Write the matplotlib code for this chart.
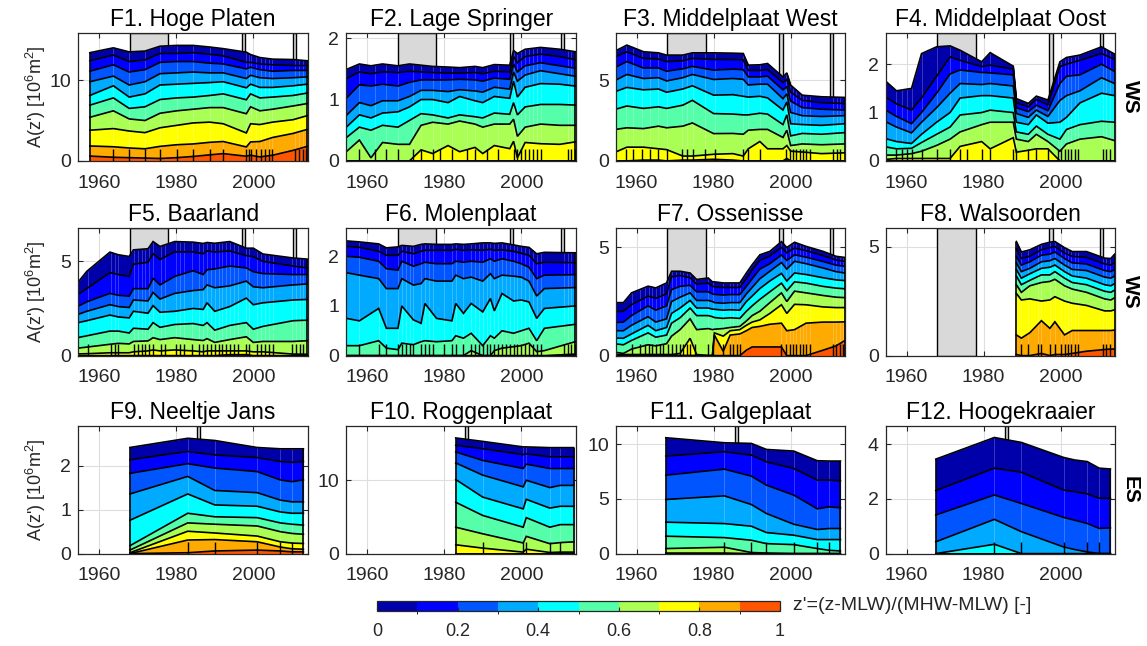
import numpy as np
import matplotlib
matplotlib.use('Agg')
import matplotlib as mpl
import matplotlib.pyplot as plt
from matplotlib.colors import ListedColormap, BoundaryNorm

plt.rcParams['font.family'] = ['Liberation Sans', 'DejaVu Sans']
plt.rcParams['mathtext.fontset'] = 'custom'
plt.rcParams['mathtext.rm'] = 'Liberation Sans'
plt.rcParams['mathtext.it'] = 'Liberation Sans:italic'
plt.rcParams['mathtext.bf'] = 'Liberation Sans:bold'

# ---------------- data ----------------
titles = ['F1. Hoge Platen', 'F2. Lage Springer', 'F3. Middelplaat West', 'F4. Middelplaat Oost',
          'F5. Baarland', 'F6. Molenplaat', 'F7. Ossenisse', 'F8. Walsoorden',
          'F9. Neeltje Jans', 'F10. Roggenplaat', 'F11. Galgeplaat', 'F12. Hoogekraaier']
row_labels = ['WS', 'WS', 'ES']
cbar_ticks = [0, 0.2, 0.4, 0.6, 0.8, 1]
cbar_ticklabels = ['0', '0.2', '0.4', '0.6', '0.8', '1']
x_ticks = [1960, 1980, 2000]

# columns: A(z') for z' = 0, 0.1, ..., 0.9  [10^6 m^2]
F1_years = [1957.6, 1963.7, 1967.8, 1971.9, 1975.8, 1980.1, 1984.4, 1988.7, 1992.2, 1998.2, 1999.3, 2001.7, 2005.0, 2010.3, 2014.0]
F1_A = [
    [13.4, 12.4, 11.1, 9.8, 8.1, 6.9, 5.4, 3.8, 1.85, 0.6],
    [14.0, 13.1, 11.9, 10.5, 9.3, 7.8, 6.2, 4.0, 1.75, 0.45],
    [13.5, 12.3, 11.0, 9.4, 7.9, 6.5, 5.2, 3.7, 1.6, 0.4],
    [13.6, 12.5, 11.3, 9.8, 8.3, 6.7, 5.0, 3.5, 1.5, 0.35],
    [14.2, 13.3, 12.2, 10.8, 9.4, 7.6, 5.9, 4.1, 1.8, 0.3],
    [14.3, 13.3, 12.3, 10.9, 9.5, 7.8, 6.2, 4.4, 2.0, 0.4],
    [14.3, 13.4, 12.3, 11.0, 9.6, 7.9, 6.4, 4.7, 2.1, 0.55],
    [14.1, 13.2, 12.1, 10.9, 9.7, 8.1, 6.6, 4.8, 2.3, 0.75],
    [13.9, 13.0, 12.0, 10.9, 9.8, 8.3, 6.6, 4.6, 2.4, 0.9],
    [13.46, 12.2, 11.4, 10.2, 9.05, 7.57, 5.84, 3.46, 1.73, 0.58],
    [13.17, 12.2, 11.6, 10.6, 9.5, 8.3, 6.7, 4.6, 2.35, 0.7],
    [12.8, 12.0, 11.3, 10.3, 9.1, 7.8, 6.2, 4.5, 2.4, 0.5],
    [12.6, 11.9, 11.1, 10.2, 9.1, 7.9, 6.4, 4.8, 2.9, 0.7],
    [12.55, 11.8, 11.2, 10.3, 9.3, 8.1, 6.8, 5.1, 3.4, 1.3],
    [12.4, 11.8, 11.2, 10.4, 9.5, 8.4, 7.1, 5.6, 3.9, 1.8],
]
F1_survey = [1963.7, 1967.8, 1971.9, 1975.8, 1980.1, 1984.4, 1988.7, 1992.2, 1998.2, 1998.8, 1999.5,
             2000.8, 2002.1, 2003.1, 2004.0, 2004.9, 2010.7, 2011.9, 2012.9, 2013.8]

F2_years = [1954.6, 1958, 1961, 1964, 1968, 1971, 1974, 1977, 1981, 1984, 1988, 1990, 1993, 1997, 1998, 1999, 2001, 2005, 2010, 2014]
F2_A = [
    [1.49, 1.34, 1.02, 0.74, 0.55, 0.38, 0.15, 0, 0, 0],
    [1.58, 1.45, 1.24, 0.95, 0.75, 0.55, 0.34, 0, 0, 0],
    [1.55, 1.42, 1.22, 0.90, 0.70, 0.50, 0.05, 0, 0, 0],
    [1.58, 1.45, 1.25, 0.98, 0.78, 0.58, 0.30, 0, 0, 0],
    [1.55, 1.44, 1.22, 0.98, 0.80, 0.55, 0.27, 0, 0, 0],
    [1.58, 1.46, 1.28, 1.05, 0.88, 0.66, 0.27, 0, 0, 0],
    [1.56, 1.45, 1.32, 1.15, 1.00, 0.77, 0.58, 0.18, 0, 0],
    [1.54, 1.44, 1.32, 1.15, 1.00, 0.75, 0.63, 0.12, 0, 0],
    [1.53, 1.43, 1.32, 1.13, 0.95, 0.70, 0.60, 0.25, 0, 0],
    [1.52, 1.43, 1.33, 1.16, 1.05, 0.75, 0.65, 0.15, 0, 0],
    [1.54, 1.44, 1.32, 1.14, 0.98, 0.72, 0.60, 0.22, 0, 0],
    [1.52, 1.42, 1.30, 1.12, 0.95, 0.70, 0.55, 0.12, 0, 0],
    [1.57, 1.46, 1.35, 1.20, 1.05, 0.78, 0.60, 0.25, 0, 0],
    [1.56, 1.45, 1.33, 1.17, 1.02, 0.76, 0.60, 0.20, 0, 0],
    [1.80, 1.70, 1.58, 1.45, 1.30, 0.95, 0.68, 0.32, 0, 0],
    [1.75, 1.60, 1.45, 1.30, 1.04, 0.75, 0.40, 0.05, 0, 0],
    [1.82, 1.70, 1.55, 1.40, 1.20, 0.88, 0.55, 0.30, 0, 0],
    [1.85, 1.74, 1.60, 1.47, 1.26, 0.92, 0.60, 0.28, 0, 0],
    [1.82, 1.70, 1.55, 1.42, 1.25, 0.92, 0.58, 0.27, 0, 0],
    [1.78, 1.65, 1.51, 1.38, 1.22, 0.91, 0.58, 0.31, 0, 0],
]
F2_survey = [1958, 1962, 1965, 1968, 1972, 1974, 1977, 1979, 1982, 1986, 1988, 1991, 1994, 1998, 1999,
             2000, 2001, 2002, 2003, 2004, 2005, 2012, 2013, 2014]

F3_years = [1954.6, 1957.5, 1961.8, 1965.7, 1967.8, 1972, 1974.5, 1980, 1985, 1987.7, 1989, 1992, 1994, 1998, 1999, 2000, 2003, 2008, 2014]
F3_A = [
    [6.82, 6.45, 5.80, 5.00, 4.30, 3.20, 1.95, 0.55, 0, 0],
    [7.17, 6.75, 6.15, 5.35, 4.55, 3.40, 2.05, 0.85, 0, 0],
    [6.76, 6.35, 5.75, 5.10, 4.40, 3.25, 2.00, 0.85, 0.05, 0],
    [6.69, 6.30, 5.75, 5.15, 4.45, 3.35, 2.15, 0.75, 0.05, 0],
    [6.55, 6.15, 5.55, 4.95, 4.25, 3.25, 2.05, 0.70, 0, 0],
    [6.55, 6.20, 5.70, 5.15, 4.45, 3.45, 2.15, 0.30, 0.05, 0],
    [6.69, 6.35, 5.85, 5.35, 4.65, 3.75, 2.35, 0.30, 0.05, 0],
    [6.69, 6.28, 5.62, 5.04, 4.07, 2.93, 1.69, 0.41, 0.10, 0],
    [6.67, 6.28, 5.68, 5.10, 4.10, 2.90, 1.70, 0.45, 0.05, 0],
    [6.65, 6.25, 5.65, 5.05, 4.00, 2.85, 1.65, 0.30, 0, 0],
    [5.93, 5.60, 5.20, 4.70, 3.95, 2.85, 1.90, 0.75, 0, 0],
    [5.95, 5.60, 5.20, 4.75, 4.00, 2.95, 1.95, 1.20, 0, 0],
    [6.03, 5.65, 5.25, 4.75, 3.90, 2.90, 1.95, 0.75, 0, 0],
    [5.20, 4.85, 4.40, 3.85, 3.15, 2.25, 1.45, 0.75, 0, 0],
    [5.45, 5.05, 4.60, 4.15, 3.65, 2.85, 1.90, 0.95, 0.15, 0],
    [4.69, 4.25, 3.70, 3.00, 2.30, 1.55, 0.95, 0.60, 0, 0],
    [4.07, 3.75, 3.30, 2.80, 2.25, 1.70, 1.05, 0.55, 0, 0],
    [3.97, 3.60, 3.20, 2.75, 2.20, 1.65, 1.00, 0.45, 0, 0],
    [3.93, 3.55, 3.15, 2.80, 2.30, 1.75, 1.05, 0.50, 0, 0],
]
F3_survey = [1957.4, 1959.2, 1961.3, 1963.5, 1965.7, 1967.8, 1971.7, 1973.0, 1974.7, 1977.7, 1980.3,
             1987.7, 1989.0, 1992.0, 1998.9, 1999.8, 2000.6, 2001.5, 2002.4, 2003.2, 2004.1, 2005.0,
             2011.0, 2011.9, 2012.7]

F4_years = [1954.6, 1957.4, 1961.3, 1963.9, 1967.8, 1971.3, 1973.9, 1979.5, 1981.7, 1987.7, 1988.5, 1991.6, 1993.7, 1996.7, 1999.8, 2001.5, 2005.0, 2010.6, 2014.0]
F4_A = [
    [1.65, 1.32, 1.05, 0.81, 0.46, 0.29, 0.12, 0.03, 0, 0],
    [1.45, 1.18, 0.92, 0.70, 0.40, 0.25, 0.12, 0.05, 0, 0],
    [1.50, 1.05, 0.77, 0.58, 0.36, 0.26, 0.15, 0.05, 0, 0],
    [2.22, 1.30, 1.00, 0.80, 0.55, 0.38, 0.20, 0.05, 0, 0],
    [2.36, 1.75, 1.40, 1.10, 0.80, 0.55, 0.32, 0.05, 0, 0],
    [2.38, 2.15, 1.80, 1.40, 1.00, 0.70, 0.45, 0.05, 0, 0],
    [2.29, 2.08, 1.88, 1.60, 1.30, 0.95, 0.60, 0.30, 0, 0],
    [2.05, 1.95, 1.83, 1.58, 1.35, 1.00, 0.75, 0.40, 0, 0],
    [2.24, 1.98, 1.82, 1.60, 1.35, 1.05, 0.80, 0.25, 0, 0],
    [1.96, 1.90, 1.78, 1.55, 1.30, 1.00, 0.80, 0.48, 0, 0],
    [1.29, 1.20, 1.10, 0.98, 0.80, 0.60, 0.45, 0.18, 0, 0],
    [1.19, 1.12, 1.02, 0.90, 0.75, 0.55, 0.40, 0.22, 0, 0],
    [1.34, 1.27, 1.15, 1.05, 0.95, 0.72, 0.55, 0.25, 0, 0],
    [1.26, 1.16, 1.04, 0.92, 0.78, 0.55, 0.40, 0.25, 0, 0],
    [2.05, 1.95, 1.60, 1.25, 0.80, 0.45, 0.20, 0, 0, 0],
    [2.14, 2.00, 1.75, 1.35, 0.90, 0.65, 0.35, 0, 0, 0],
    [2.19, 2.08, 1.78, 1.45, 1.20, 0.75, 0.45, 0, 0, 0],
    [2.36, 2.22, 2.00, 1.72, 1.40, 0.82, 0.50, 0, 0, 0],
    [2.21, 2.10, 1.85, 1.60, 1.35, 0.80, 0.42, 0, 0, 0],
]
F4_survey = [1957.4, 1958.7, 1960.0, 1961.3, 1963.9, 1967.8, 1971.3, 1973.9, 1975.6, 1979.5, 1981.7,
             1987.7, 1988.5, 1991.6, 1993.7, 1996.7, 1999.3, 2000.2, 2001.0, 2001.9, 2002.8, 2003.6,
             2004.5, 2011.0, 2011.8, 2012.7]

F5_years = [1954.6, 1956.8, 1962.8, 1965.0, 1967.8, 1968.9, 1972.7, 1974.0, 1975.8, 1979.6, 1984.4, 1987.0, 1988.0, 1990.0, 1993.9, 1998.2, 2000.0, 2002.5, 2010.3, 2014.0]
F5_A = [
    [3.91, 3.25, 2.63, 2.19, 1.75, 0.96, 0.40, 0.09, 0, 0],
    [4.47, 3.55, 2.85, 2.35, 1.85, 1.05, 0.45, 0.10, 0, 0],
    [5.49, 4.40, 3.30, 2.70, 2.15, 1.30, 0.60, 0.15, 0, 0],
    [5.35, 4.30, 3.20, 2.60, 2.05, 1.30, 0.65, 0.15, 0, 0],
    [5.26, 4.20, 3.15, 2.55, 2.00, 1.20, 0.62, 0.15, 0, 0],
    [5.61, 4.85, 3.55, 2.95, 2.35, 1.45, 0.75, 0.20, 0, 0],
    [5.67, 4.95, 3.55, 2.90, 2.25, 1.40, 0.78, 0.25, 0, 0],
    [6.05, 5.40, 4.10, 3.35, 2.65, 1.75, 0.95, 0.30, 0, 0],
    [5.79, 5.10, 3.75, 3.00, 2.30, 1.50, 0.85, 0.25, 0, 0],
    [6.05, 5.50, 4.20, 3.30, 2.35, 1.65, 0.95, 0.30, 0, 0],
    [6.02, 5.50, 4.50, 3.45, 2.50, 1.70, 0.85, 0.25, 0, 0],
    [5.95, 5.40, 4.30, 3.50, 2.45, 1.60, 0.80, 0.20, 0, 0],
    [6.00, 5.55, 4.55, 3.75, 2.80, 1.75, 0.90, 0.25, 0, 0],
    [5.96, 5.50, 4.60, 3.60, 2.35, 1.35, 0.70, 0.25, 0, 0],
    [6.05, 5.55, 4.75, 3.70, 2.60, 1.60, 0.85, 0.25, 0.05, 0],
    [5.70, 5.30, 4.65, 3.95, 3.05, 1.75, 1.00, 0.25, 0.05, 0],
    [5.70, 5.25, 4.45, 3.65, 2.70, 1.40, 0.70, 0.20, 0, 0],
    [5.39, 5.00, 4.35, 3.60, 2.80, 1.55, 0.75, 0.20, 0, 0],
    [5.18, 4.75, 4.30, 3.75, 2.95, 1.85, 0.75, 0.08, 0, 0],
    [5.12, 4.65, 4.30, 3.80, 2.98, 1.88, 0.79, 0.07, 0, 0],
]
F5_survey = [1957, 1963, 1964, 1965, 1969, 1970, 1971, 1972, 1973, 1974, 1976, 1977, 1980, 1981, 1982,
             1984, 1986, 1987, 1988, 1989, 1990, 1991, 1992, 1993, 1994, 1995, 1996, 1998, 1999, 2001,
             2002, 2003, 2004, 2005, 2010, 2011, 2012, 2013]

F6_years = [1954.6, 1958, 1963, 1965, 1968, 1969, 1972, 1974, 1975, 1978, 1982, 1983, 1985, 1987, 1990, 1992, 1993, 1995, 1998, 2000, 2002, 2004, 2006, 2014]
F6_A = [
    [2.31, 2.20, 2.00, 1.67, 0.75, 0.20, 0, 0, 0, 0],
    [2.29, 2.18, 1.98, 1.62, 0.70, 0.20, 0, 0, 0, 0],
    [2.25, 2.10, 1.90, 1.55, 0.95, 0.30, 0, 0, 0, 0],
    [2.17, 2.02, 1.75, 1.35, 0.55, 0.15, 0, 0, 0, 0],
    [2.19, 2.02, 1.72, 1.35, 0.55, 0.12, 0, 0, 0, 0],
    [2.22, 2.10, 1.90, 1.55, 1.00, 0.25, 0, 0, 0, 0],
    [2.20, 2.05, 1.80, 1.42, 0.72, 0.22, 0, 0, 0, 0],
    [2.24, 2.10, 1.85, 1.45, 0.65, 0.28, 0, 0, 0, 0],
    [2.25, 2.12, 1.88, 1.55, 1.05, 0.30, 0, 0, 0, 0],
    [2.24, 2.12, 1.85, 1.50, 0.75, 0.28, 0, 0, 0, 0],
    [2.24, 2.12, 1.85, 1.50, 0.70, 0.30, 0, 0, 0, 0],
    [2.25, 2.14, 1.90, 1.62, 1.05, 0.40, 0, 0, 0, 0],
    [2.24, 2.12, 1.88, 1.55, 0.85, 0.35, 0, 0, 0, 0],
    [2.25, 2.13, 1.90, 1.58, 1.05, 0.45, 0.10, 0, 0, 0],
    [2.27, 2.12, 1.88, 1.50, 0.88, 0.20, 0, 0, 0, 0],
    [2.27, 2.14, 1.95, 1.65, 1.15, 0.40, 0, 0, 0, 0],
    [2.26, 2.12, 1.90, 1.55, 0.90, 0.35, 0.10, 0, 0, 0],
    [2.27, 2.13, 1.95, 1.62, 1.25, 0.50, 0.15, 0, 0, 0],
    [2.23, 2.10, 1.90, 1.60, 1.10, 0.45, 0.18, 0, 0, 0],
    [2.20, 2.06, 1.85, 1.58, 1.12, 0.50, 0.20, 0, 0, 0],
    [2.18, 2.02, 1.78, 1.50, 1.08, 0.55, 0.25, 0, 0, 0],
    [2.05, 1.85, 1.55, 1.20, 0.75, 0.30, 0.08, 0, 0, 0],
    [2.08, 1.88, 1.62, 1.35, 0.95, 0.55, 0.10, 0, 0, 0],
    [2.07, 1.87, 1.63, 1.37, 1.00, 0.63, 0.28, 0.03, 0, 0],
]
F6_survey = [1958, 1963, 1965, 1968, 1969, 1970, 1971, 1972, 1974, 1975, 1976, 1977, 1980, 1982, 1983,
             1985, 1987, 1988, 1989, 1990, 1991, 1992, 1993, 1994, 1995, 1996, 1997, 1998, 1999, 2000,
             2001, 2002, 2003, 2004, 2005, 2011, 2012, 2013, 2014]

F7_years = [1954.6, 1956.6, 1958.7, 1963.0, 1965.0, 1967.8, 1969.1, 1971.3, 1973.9, 1975.6, 1978.6, 1979.7, 1980.2, 1982.5, 1984.3, 1986.8, 1988.5, 1990.0, 1992.0, 1994.6, 1997.6, 1999.0, 2001.0, 2004.0, 2008.4, 2011.8, 2014.0]
F7_A = [
    [2.45, 2.03, 1.53, 1.15, 0.81, 0.54, 0.15, 0.05, 0, 0],
    [2.45, 2.05, 1.55, 1.15, 0.80, 0.50, 0.10, 0.05, 0, 0],
    [2.90, 2.35, 1.85, 1.40, 1.00, 0.70, 0.30, 0.05, 0, 0],
    [3.21, 2.75, 2.30, 1.80, 1.40, 1.05, 0.50, 0.05, 0, 0],
    [3.13, 2.65, 2.10, 1.55, 1.15, 0.85, 0.45, 0.05, 0, 0],
    [3.36, 2.85, 2.30, 1.70, 1.30, 0.95, 0.55, 0.05, 0, 0],
    [3.90, 3.65, 3.05, 2.50, 1.95, 1.50, 0.90, 0.05, 0, 0],
    [3.90, 3.70, 3.20, 2.70, 2.20, 1.75, 1.20, 0.10, 0, 0],
    [3.82, 3.60, 3.25, 2.90, 2.55, 2.20, 1.70, 0.80, 0, 0],
    [3.52, 3.30, 2.95, 2.55, 2.20, 1.85, 1.20, 0.05, 0, 0],
    [3.59, 3.35, 2.95, 2.55, 2.20, 1.85, 1.25, 0.00, 0, 0],
    [3.41, 3.20, 2.85, 2.50, 2.15, 1.80, 1.20, 0.00, 0, 0],
    [3.41, 3.18, 2.83, 2.45, 2.14, 1.76, 1.22, 1.05, 0.95, 0],
    [3.36, 3.15, 2.80, 2.42, 2.10, 1.72, 1.25, 0.90, 0.20, 0],
    [3.36, 3.15, 2.82, 2.45, 2.12, 1.75, 1.30, 1.15, 0.95, 0],
    [3.36, 3.15, 2.82, 2.45, 2.10, 1.72, 1.35, 1.20, 1.00, 0],
    [3.82, 3.55, 3.20, 2.85, 2.50, 2.05, 1.60, 1.40, 1.15, 0.25],
    [4.20, 3.95, 3.55, 3.15, 2.75, 2.30, 1.85, 1.55, 1.30, 0.40],
    [4.66, 4.40, 4.00, 3.55, 3.10, 2.60, 2.05, 1.65, 1.35, 0.40],
    [4.82, 4.60, 4.25, 3.90, 3.45, 2.95, 2.45, 1.95, 1.45, 0.40],
    [5.27, 5.00, 4.65, 4.30, 3.80, 3.35, 2.90, 2.35, 1.50, 0.40],
    [5.00, 4.75, 4.40, 4.00, 3.45, 3.00, 2.50, 1.95, 1.15, 0.00],
    [5.24, 4.97, 4.66, 4.36, 3.82, 3.41, 2.98, 2.37, 1.20, 0.00],
    [5.05, 4.85, 4.55, 4.25, 3.75, 3.35, 2.90, 2.35, 1.50, 0.00],
    [4.82, 4.62, 4.35, 4.05, 3.60, 3.20, 2.78, 2.25, 1.55, 0.25],
    [4.59, 4.42, 4.18, 3.88, 3.50, 3.12, 2.70, 2.22, 1.55, 0.45],
    [4.54, 4.36, 4.13, 3.82, 3.47, 3.09, 2.68, 2.22, 1.56, 0.69],
]
F7_survey = [1958.7, 1960.9, 1962.2, 1963.3, 1964.1, 1965.1, 1966.0, 1966.9, 1968.2, 1969.1, 1970.2,
             1971.3, 1972.1, 1973.0, 1973.9, 1975.2, 1978.6, 1979.9, 1982.5, 1984.3, 1985.1, 1986.0,
             1986.8, 1997.6, 1998.9, 1999.8, 2000.6, 2001.5, 2002.4, 2003.2, 2004.1, 2005.0, 2011.0,
             2011.8, 2012.7, 2013.6]

F8_years = [1988.5, 1989.8, 1992.0, 1995.0, 1997.2, 1998.5, 2001.0, 2003.0, 2006.7, 2011.4, 2013.0, 2014.0]
F8_A = [
    [5.23, 4.90, 4.55, 4.25, 3.95, 3.65, 3.25, 2.85, 0.95, 0.05],
    [4.75, 4.45, 4.15, 3.85, 3.55, 3.25, 2.90, 2.55, 0.80, 0.00],
    [4.85, 4.55, 4.30, 4.00, 3.75, 3.45, 3.20, 2.60, 1.05, 0.00],
    [5.10, 4.85, 4.60, 4.30, 4.00, 3.70, 3.35, 2.50, 1.60, 0.10],
    [5.20, 4.95, 4.65, 4.35, 4.05, 3.70, 3.40, 2.55, 1.25, 0.00],
    [5.23, 5.00, 4.75, 4.45, 4.15, 3.85, 3.50, 2.70, 1.55, 0.05],
    [4.95, 4.70, 4.45, 4.15, 3.85, 3.55, 3.20, 2.50, 0.95, 0.05],
    [4.77, 4.55, 4.25, 3.95, 3.65, 3.35, 3.05, 2.40, 1.15, 0.10],
    [4.77, 4.50, 4.20, 3.90, 3.55, 3.25, 2.90, 2.30, 1.15, 0.20],
    [4.47, 4.20, 3.90, 3.60, 3.25, 2.95, 2.60, 2.05, 1.15, 0.28],
    [4.45, 4.15, 3.85, 3.55, 3.20, 2.90, 2.55, 2.05, 1.15, 0.30],
    [4.65, 4.25, 3.95, 3.65, 3.30, 3.00, 2.65, 2.10, 1.17, 0.30],
]
F8_survey = [1989.8, 1991.6, 1994.1, 1995.0, 1997.2, 1998.5, 2000.2, 2001.1, 2001.9, 2002.8, 2003.6,
             2004.5, 2011.0, 2011.8, 2012.7]

F9_years = [1968, 1983, 1990, 2001, 2007, 2010, 2013]
F9_A = [
    [2.42, 2.14, 1.83, 1.36, 0.76, 0.18, 0.08, 0.02, 0, 0],
    [2.63, 2.33, 2.05, 1.76, 1.36, 0.92, 0.70, 0.51, 0.31, 0.02],
    [2.58, 2.25, 1.95, 1.44, 1.11, 0.84, 0.67, 0.47, 0.32, 0.06],
    [2.42, 2.19, 1.87, 1.39, 1.08, 0.82, 0.63, 0.40, 0.27, 0.08],
    [2.39, 2.10, 1.68, 1.22, 0.95, 0.70, 0.50, 0.27, 0.15, 0.06],
    [2.39, 2.08, 1.64, 1.18, 0.92, 0.67, 0.46, 0.24, 0.11, 0.04],
    [2.39, 2.10, 1.68, 1.18, 0.92, 0.65, 0.44, 0.23, 0.10, 0.04],
]
F9_survey = [1983, 1990, 2001, 2007, 2010]

F10_years = [1983, 1990, 2000.5, 2001.3, 2007.4, 2010.1, 2013.6]
F10_A = [
    [15.77, 14.77, 13.86, 12.36, 10.10, 7.00, 3.60, 1.20, 0, 0],
    [15.30, 14.30, 12.70, 10.70, 7.70, 5.20, 2.70, 0.75, 0, 0],
    [14.55, 13.50, 11.60, 9.10, 6.10, 3.60, 1.45, 0.20, 0, 0],
    [14.55, 13.60, 12.20, 10.00, 7.40, 4.90, 2.35, 0.60, 0, 0],
    [14.45, 13.20, 11.60, 9.00, 6.20, 3.60, 1.35, 0.15, 0, 0],
    [14.45, 13.20, 11.60, 9.30, 6.45, 3.95, 1.50, 0.20, 0, 0],
    [14.45, 13.20, 11.60, 9.30, 6.45, 3.95, 1.60, 0.20, 0, 0],
]
F10_survey = [1990, 2000.5, 2001.3, 2007.4, 2010.1]

F11_years = [1967.6, 1982.8, 1989.8, 1993.7, 2000.8, 2006.9, 2010.0, 2012.9]
F11_A = [
    [10.58, 8.90, 7.16, 4.94, 2.87, 1.59, 0.46, 0.05, 0, 0],
    [10.12, 9.30, 7.71, 5.27, 2.74, 1.46, 0.58, 0.05, 0, 0],
    [10.06, 8.99, 7.07, 4.48, 2.50, 1.22, 0.10, 0, 0, 0],
    [9.51, 8.38, 6.25, 3.66, 1.92, 0.91, 0.05, 0, 0, 0],
    [9.36, 7.77, 5.34, 2.68, 1.68, 0.82, 0, 0, 0, 0],
    [8.48, 6.71, 4.09, 2.20, 1.28, 0.46, 0, 0, 0, 0],
    [8.45, 6.71, 4.27, 2.29, 1.28, 0.30, 0, 0, 0, 0],
    [8.45, 6.65, 4.18, 2.29, 1.28, 0.24, 0, 0, 0, 0],
]
F11_survey = [1982.8, 1989.8, 1993.7, 2000.8, 2006.9, 2010.0]

F12_years = [1967.6, 1982.8, 1989.8, 2000.8, 2003.6, 2006.9, 2010.0, 2012.9]
F12_A = [
    [3.45, 2.30, 1.41, 0.43, 0, 0, 0, 0, 0, 0],
    [4.24, 3.12, 2.14, 1.25, 0.34, 0, 0, 0, 0, 0],
    [4.06, 2.97, 1.83, 0.80, 0, 0, 0, 0, 0, 0],
    [3.51, 2.32, 1.32, 0.24, 0, 0, 0, 0, 0, 0],
    [3.42, 2.26, 1.22, 0.15, 0, 0, 0, 0, 0, 0],
    [3.36, 2.18, 1.10, 0.06, 0, 0, 0, 0, 0, 0],
    [3.12, 2.02, 0.92, 0.00, 0, 0, 0, 0, 0, 0],
    [3.09, 2.02, 0.94, 0.00, 0, 0, 0, 0, 0, 0],
]
F12_survey = [1982.8, 1989.8, 2000.8, 2006.9, 2010.0]

all_years = [F1_years, F2_years, F3_years, F4_years, F5_years, F6_years,
             F7_years, F8_years, F9_years, F10_years, F11_years, F12_years]
all_A = [F1_A, F2_A, F3_A, F4_A, F5_A, F6_A, F7_A, F8_A, F9_A, F10_A, F11_A, F12_A]
all_survey = [F1_survey, F2_survey, F3_survey, F4_survey, F5_survey, F6_survey,
              F7_survey, F8_survey, F9_survey, F10_survey, F11_survey, F12_survey]
y_max = [15.8, 2.08, 7.9, 2.64, 6.77, 2.57, 5.9, 5.85, 2.91, 17.4, 11.65, 4.66]
y_ticks = [[0, 10], [0, 1, 2], [0, 5], [0, 1, 2], [0, 5], [0, 1, 2], [0, 5], [0, 5],
           [0, 1, 2], [0, 10], [0, 5, 10], [0, 2, 4]]
# grey periods (years)
spans_WS = [(1968, 1978), (1997.1, 1997.9), (2010.2, 2011.0)]
spans_ES = [(1985.5, 1986.3)]

# ---------------- style ----------------
JET10 = ['#0000AA', '#0000FF', '#0055FF', '#00AAFF', '#00FFFF',
         '#55FFAA', '#AAFF55', '#FFFF00', '#FFAA00', '#FF5500']
DARK = '#262626'
W, H = 1147, 646
fig = plt.figure(figsize=(W / 100, H / 100), dpi=100)

col_left = [78.3, 346.3, 615.7, 885.7]
ax_w = 229.7
row_top = [33.3, 228.0, 426.0]
ax_h = 127.6

for i in range(12):
    r, c = divmod(i, 4)
    ax = fig.add_axes([col_left[c] / W, 1 - (row_top[r] + ax_h) / H, ax_w / W, ax_h / H])
    yrs = np.array(all_years[i], dtype=float)
    A = np.array(all_A[i], dtype=float)
    ym = y_max[i]
    ax.set_xlim(1954.6, 2014.2)
    ax.set_ylim(0, ym)
    spans = spans_WS if r < 2 else spans_ES
    for (x0, x1) in spans:
        ax.axvspan(x0, x1, facecolor='#d9d9d9', edgecolor='k', lw=1.0, zorder=1)
    n = len(yrs)
    for k in range(10):
        lower = A[:, k + 1] if k < 9 else np.zeros(n)
        ax.fill_between(yrs, lower, A[:, k], facecolor=JET10[k], edgecolor=JET10[k],
                        lw=0.3, zorder=2)
    surv = np.array(all_survey[i], dtype=float)
    top_at = np.interp(surv, yrs, A[:, 0])
    ax.vlines(surv, 0, top_at, color='white', alpha=0.25, lw=0.6, zorder=3)
    for k in range(10):
        ax.plot(yrs, A[:, k], color='k', lw=1.2, zorder=4, solid_joinstyle='miter')
    ax.vlines([yrs[0], yrs[-1]], 0, [A[0, 0], A[-1, 0]], color='k', lw=1.2, zorder=4)
    ax.vlines(surv, 0, 0.09 * ym, color='k', lw=1.0, zorder=5)

    ax.set_xticks(x_ticks)
    ax.set_yticks(y_ticks[i])
    ax.grid(True, color='#dedede', lw=0.8, zorder=0)
    ax.set_axisbelow(True)
    ax.tick_params(direction='in', length=3.5, width=0.8, top=True, right=True,
                   labelsize=14, colors=DARK, pad=5)
    ax.tick_params(axis='x', pad=10)
    for s in ax.spines.values():
        s.set_color(DARK)
        s.set_linewidth(0.9)
        s.set_zorder(6)
    ax.set_title(titles[i], fontsize=16.5, pad=5, color='k')

for r in range(3):
    yc = 1 - (row_top[r] + ax_h / 2) / H
    fig.text(36 / W, yc, "A(z') [10$^6$m$^2$]", rotation=90, ha='center', va='center',
             fontsize=13, color=DARK)
    fig.text(1130 / W, yc, row_labels[r], rotation=270, ha='center', va='center',
             fontsize=15, fontweight='bold', color='k')

# colour bar
cax = fig.add_axes([377 / W, 35 / H, 403 / W, 10 / H])
cmap = ListedColormap(JET10)
norm = BoundaryNorm(np.linspace(0, 1, 11), 10)
cb = mpl.colorbar.ColorbarBase(cax, cmap=cmap, norm=norm, orientation='horizontal',
                               ticks=cbar_ticks)
cb.set_ticklabels(cbar_ticklabels)
cax.tick_params(direction='in', length=3, width=0.8, labelsize=13, colors=DARK, pad=9)
cb.outline.set_edgecolor(DARK)
cb.outline.set_linewidth(0.9)
fig.text(793 / W, 1 - 606 / H, "z'=(z-MLW)/(MHW-MLW) [-]", ha='left', va='center',
         fontsize=14, color=DARK)

fig.savefig('out.png', dpi=100)
